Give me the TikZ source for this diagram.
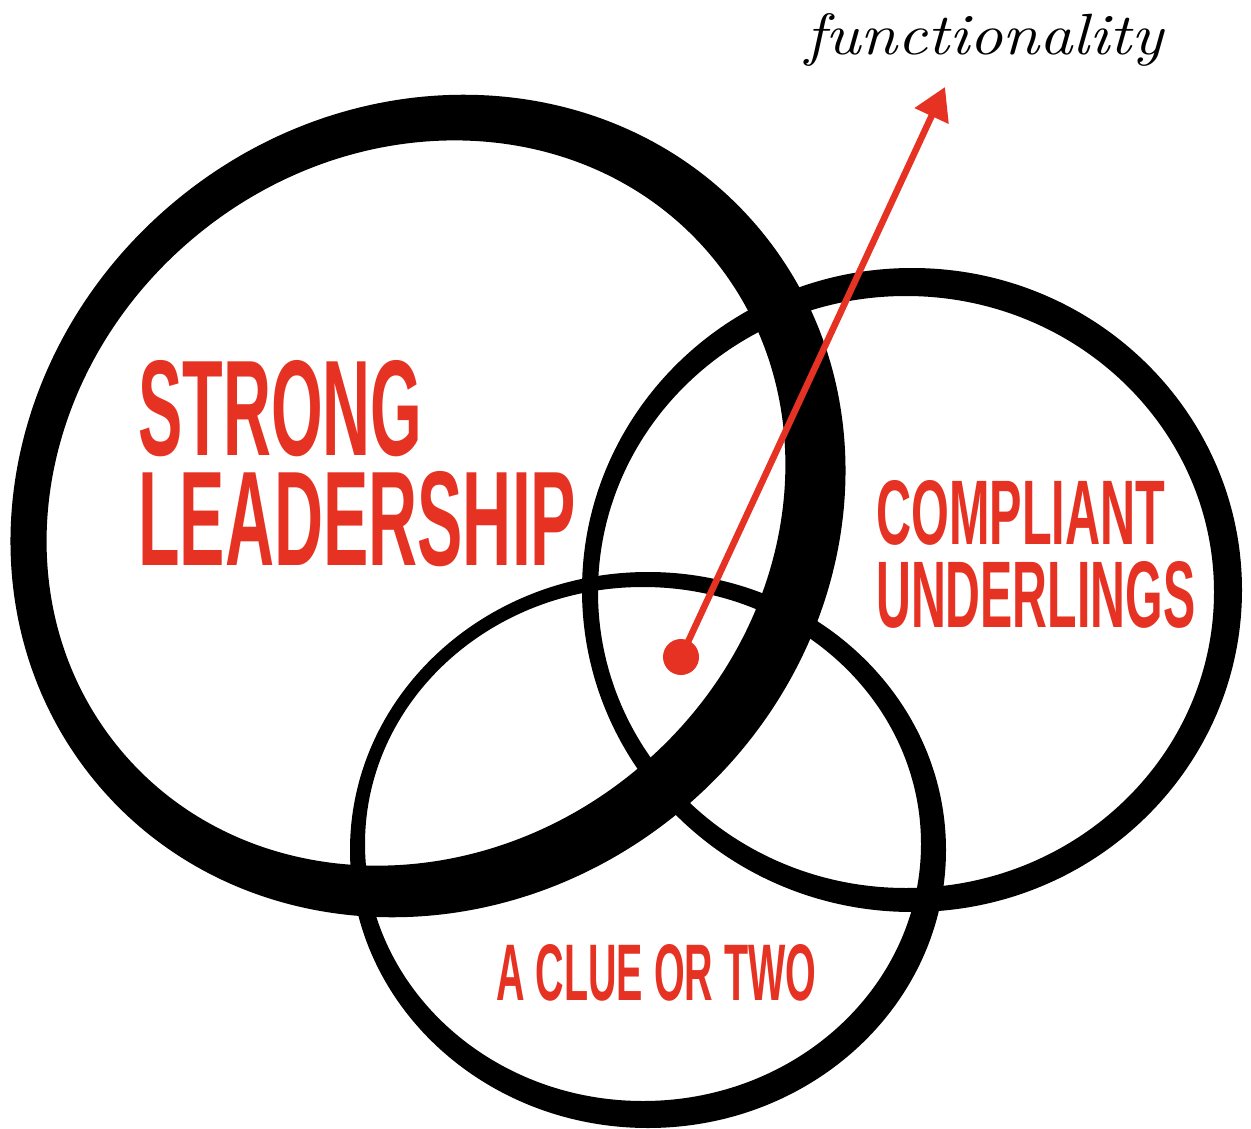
\documentclass[tikz,border=0pt]{standalone}
\usepackage{graphicx}
\usepackage{fontspec}
\usetikzlibrary{arrows.meta}
\newfontfamily\lblfont{Liberation Sans}
\definecolor{vred}{RGB}{230,50,35}
\tikzset{
  ring/.style={fill=black, even odd rule},
  lbl/.style={anchor=north west, inner sep=0pt, text=vred, font=\lblfont\bfseries},
  dotnode/.style={circle, fill=vred, inner sep=0pt, minimum size=36pt},
  arrowline/.style={draw=vred, line width=6.5pt, -{Triangle[length=32pt,width=36pt]}},
}
\begin{document}
\begin{tikzpicture}[x=1pt,y=-1pt]
\useasboundingbox (0,0) rectangle (1251,1129);
\fill[white] (0,0) rectangle (1251,1129);
% strong leadership ring
\fill[ring, rotate around={40:(428,506)}]
  (428,506) ellipse [x radius=432, y radius=396]
  (420.7,496) ellipse [x radius=385, y radius=346];
% compliant underlings ring
\fill[ring] (912,590) ellipse [x radius=330, y radius=322]
            (906,592) ellipse [x radius=308, y radius=296];
% a clue or two ring
\fill[ring] (648,850) ellipse [x radius=298, y radius=278]
            (643,844) ellipse [x radius=278, y radius=257];
% labels
\node[lbl] (strong) at (138,360) {\resizebox{284pt}{95pt}{STRONG}};
\node[lbl] (leader) at (138,471) {\resizebox{438pt}{94pt}{LEADERSHIP}};
\node[lbl] (compl) at (876,480) {\resizebox{289pt}{64pt}{COMPLIANT}};
\node[lbl] (under) at (876,561) {\resizebox{319pt}{66pt}{UNDERLINGS}};
\node[lbl] (clue) at (496,944) {\resizebox{320pt}{56pt}{A CLUE OR TWO}};
\node[anchor=base west, inner sep=0pt] (func) at (805,55)
  {\resizebox{358pt}{41pt}{\itshape\addfontfeatures{LetterSpace=6}functionality}};
% arrow
\coordinate (tip) at (945,87);
\node[dotnode] (dot) at (681,657) {};
\draw[arrowline] (dot.center) -- (tip);
\end{tikzpicture}
\end{document}
